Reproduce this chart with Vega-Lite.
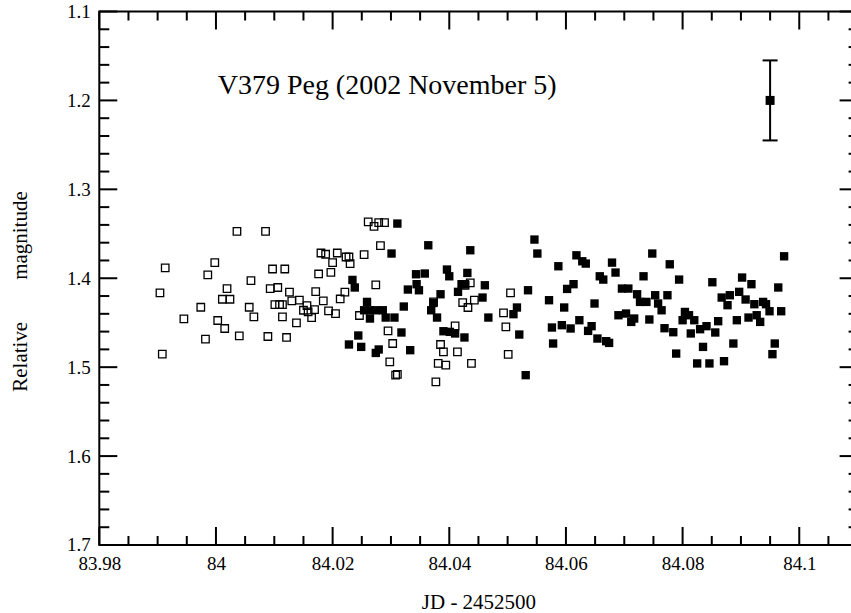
{
  "$schema": "https://vega.github.io/schema/vega-lite/v6.json",
  "width": 758.3,
  "height": 533.5,
  "autosize": {"type": "none"},
  "padding": {"left": 99.3, "top": 11.5, "right": -7, "bottom": 68},
  "background": "white",
  "config": {
    "view": {"stroke": "black", "strokeWidth": 2},
    "axis": {"grid": false, "domain": false, "ticks": false, "labelColor": "black", "titleColor": "black", "labelFont": "Liberation Serif", "titleFont": "Liberation Serif", "labelFontSize": 19, "titleFontSize": 21, "titleFontWeight": "normal"}
  },
  "datasets": {
    "open": [
      {"jd": 84.0036, "mag": 1.3472}, {"jd": 84.0085, "mag": 1.3472}, {"jd": 83.9913, "mag": 1.3884}, {"jd": 83.9998, "mag": 1.3824},
      {"jd": 83.9986, "mag": 1.3963}, {"jd": 84.0097, "mag": 1.3896}, {"jd": 84.0118, "mag": 1.3896}, {"jd": 84.006, "mag": 1.4026},
      {"jd": 83.9904, "mag": 1.4165}, {"jd": 84.0019, "mag": 1.4116}, {"jd": 84.0093, "mag": 1.4116}, {"jd": 84.0106, "mag": 1.4104},
      {"jd": 84.0011, "mag": 1.4236}, {"jd": 84.0024, "mag": 1.4236}, {"jd": 83.9974, "mag": 1.4326}, {"jd": 84.0057, "mag": 1.4326},
      {"jd": 84.0101, "mag": 1.4296}, {"jd": 84.0109, "mag": 1.4296}, {"jd": 84.0114, "mag": 1.4296}, {"jd": 83.9945, "mag": 1.4457},
      {"jd": 84.0003, "mag": 1.4475}, {"jd": 84.0065, "mag": 1.4435}, {"jd": 84.0114, "mag": 1.4435}, {"jd": 84.0015, "mag": 1.4565},
      {"jd": 83.9982, "mag": 1.4685}, {"jd": 84.004, "mag": 1.4648}, {"jd": 84.0089, "mag": 1.4655}, {"jd": 83.9908, "mag": 1.4854},
      {"jd": 84.0121, "mag": 1.4666},
      {"jd": 84.0261, "mag": 1.3367}, {"jd": 84.0271, "mag": 1.3416}, {"jd": 84.0279, "mag": 1.3374}, {"jd": 84.0289, "mag": 1.3374},
      {"jd": 84.0282, "mag": 1.3633}, {"jd": 84.018, "mag": 1.3716}, {"jd": 84.0188, "mag": 1.373}, {"jd": 84.0208, "mag": 1.3716},
      {"jd": 84.0223, "mag": 1.3761}, {"jd": 84.0228, "mag": 1.3761}, {"jd": 84.02, "mag": 1.3824}, {"jd": 84.023, "mag": 1.3835},
      {"jd": 84.0254, "mag": 1.3734}, {"jd": 84.0176, "mag": 1.3952}, {"jd": 84.0197, "mag": 1.3933}, {"jd": 84.0221, "mag": 1.4157},
      {"jd": 84.0213, "mag": 1.4233}, {"jd": 84.0274, "mag": 1.4075}, {"jd": 84.0126, "mag": 1.4157}, {"jd": 84.0171, "mag": 1.415},
      {"jd": 84.013, "mag": 1.4255}, {"jd": 84.0143, "mag": 1.4247}, {"jd": 84.0156, "mag": 1.4307}, {"jd": 84.0184, "mag": 1.4255},
      {"jd": 84.015, "mag": 1.436}, {"jd": 84.0158, "mag": 1.4379}, {"jd": 84.0164, "mag": 1.4442}, {"jd": 84.0169, "mag": 1.4352},
      {"jd": 84.0193, "mag": 1.4367}, {"jd": 84.0205, "mag": 1.4397}, {"jd": 84.0138, "mag": 1.4502}, {"jd": 84.0246, "mag": 1.4419},
      {"jd": 84.0295, "mag": 1.4592}, {"jd": 84.0303, "mag": 1.4734}, {"jd": 84.0298, "mag": 1.494}, {"jd": 84.0308, "mag": 1.509},
      {"jd": 84.0311, "mag": 1.5082},
      {"jd": 84.0436, "mag": 1.4053}, {"jd": 84.0427, "mag": 1.4079}, {"jd": 84.0505, "mag": 1.4165}, {"jd": 84.0423, "mag": 1.4273},
      {"jd": 84.0432, "mag": 1.4329}, {"jd": 84.0443, "mag": 1.4247}, {"jd": 84.0373, "mag": 1.4266}, {"jd": 84.0493, "mag": 1.439},
      {"jd": 84.0497, "mag": 1.4547}, {"jd": 84.041, "mag": 1.4536}, {"jd": 84.0385, "mag": 1.4745}, {"jd": 84.039, "mag": 1.4828},
      {"jd": 84.0414, "mag": 1.4828}, {"jd": 84.0381, "mag": 1.4958}, {"jd": 84.0394, "mag": 1.4978}, {"jd": 84.0438, "mag": 1.4958},
      {"jd": 84.0501, "mag": 1.4857}, {"jd": 84.0377, "mag": 1.5165}
    ],
    "filled": [
      {"jd": 84.0311, "mag": 1.3385}, {"jd": 84.0301, "mag": 1.3722}, {"jd": 84.0234, "mag": 1.4019}, {"jd": 84.0238, "mag": 1.4104},
      {"jd": 84.0343, "mag": 1.3955}, {"jd": 84.0329, "mag": 1.4127}, {"jd": 84.0344, "mag": 1.4067}, {"jd": 84.0259, "mag": 1.4266},
      {"jd": 84.0254, "mag": 1.436}, {"jd": 84.0264, "mag": 1.436}, {"jd": 84.0274, "mag": 1.436}, {"jd": 84.0286, "mag": 1.436},
      {"jd": 84.0264, "mag": 1.4453}, {"jd": 84.0291, "mag": 1.4442}, {"jd": 84.0306, "mag": 1.4442}, {"jd": 84.0322, "mag": 1.4318},
      {"jd": 84.0318, "mag": 1.461}, {"jd": 84.0244, "mag": 1.4644}, {"jd": 84.0228, "mag": 1.4745}, {"jd": 84.0249, "mag": 1.4772},
      {"jd": 84.0279, "mag": 1.4801}, {"jd": 84.0274, "mag": 1.484}, {"jd": 84.0333, "mag": 1.4809},
      {"jd": 84.0364, "mag": 1.3629}, {"jd": 84.0436, "mag": 1.3685}, {"jd": 84.0546, "mag": 1.3565}, {"jd": 84.0551, "mag": 1.3722},
      {"jd": 84.0358, "mag": 1.3947}, {"jd": 84.0396, "mag": 1.3902}, {"jd": 84.04, "mag": 1.3978}, {"jd": 84.0431, "mag": 1.394},
      {"jd": 84.0348, "mag": 1.4135}, {"jd": 84.0421, "mag": 1.4067}, {"jd": 84.0427, "mag": 1.4067}, {"jd": 84.0415, "mag": 1.4153},
      {"jd": 84.0385, "mag": 1.418}, {"jd": 84.0461, "mag": 1.4079}, {"jd": 84.0535, "mag": 1.4135}, {"jd": 84.0571, "mag": 1.4247},
      {"jd": 84.0373, "mag": 1.4278}, {"jd": 84.0369, "mag": 1.436}, {"jd": 84.0457, "mag": 1.4217}, {"jd": 84.0516, "mag": 1.4329},
      {"jd": 84.051, "mag": 1.4404}, {"jd": 84.0379, "mag": 1.4442}, {"jd": 84.0467, "mag": 1.4442}, {"jd": 84.039, "mag": 1.4596},
      {"jd": 84.0401, "mag": 1.4603}, {"jd": 84.041, "mag": 1.4621}, {"jd": 84.0426, "mag": 1.4666}, {"jd": 84.052, "mag": 1.4633},
      {"jd": 84.0576, "mag": 1.4554}, {"jd": 84.0578, "mag": 1.4734}, {"jd": 84.0531, "mag": 1.509},
      {"jd": 84.0618, "mag": 1.3742}, {"jd": 84.0748, "mag": 1.3722}, {"jd": 84.0587, "mag": 1.3865}, {"jd": 84.0628, "mag": 1.3809},
      {"jd": 84.0634, "mag": 1.3835}, {"jd": 84.0679, "mag": 1.3824}, {"jd": 84.0778, "mag": 1.3843}, {"jd": 84.0685, "mag": 1.3936},
      {"jd": 84.0658, "mag": 1.3978}, {"jd": 84.0664, "mag": 1.4015}, {"jd": 84.0733, "mag": 1.3978}, {"jd": 84.0794, "mag": 1.4015},
      {"jd": 84.0613, "mag": 1.4067}, {"jd": 84.0602, "mag": 1.412}, {"jd": 84.0696, "mag": 1.4116}, {"jd": 84.0707, "mag": 1.4116},
      {"jd": 84.0722, "mag": 1.418}, {"jd": 84.0753, "mag": 1.4191}, {"jd": 84.0774, "mag": 1.4191}, {"jd": 84.0727, "mag": 1.4266},
      {"jd": 84.0738, "mag": 1.4266}, {"jd": 84.0758, "mag": 1.4284}, {"jd": 84.0649, "mag": 1.4284}, {"jd": 84.0597, "mag": 1.4329},
      {"jd": 84.0764, "mag": 1.436}, {"jd": 84.0804, "mag": 1.4379}, {"jd": 84.08, "mag": 1.4472}, {"jd": 84.0623, "mag": 1.4472},
      {"jd": 84.069, "mag": 1.4416}, {"jd": 84.0703, "mag": 1.4397}, {"jd": 84.0717, "mag": 1.4453}, {"jd": 84.0712, "mag": 1.4491},
      {"jd": 84.0743, "mag": 1.4464}, {"jd": 84.0593, "mag": 1.4528}, {"jd": 84.0608, "mag": 1.4565}, {"jd": 84.0644, "mag": 1.4539},
      {"jd": 84.0638, "mag": 1.4592}, {"jd": 84.0769, "mag": 1.4562}, {"jd": 84.0784, "mag": 1.4607}, {"jd": 84.0654, "mag": 1.4678},
      {"jd": 84.0669, "mag": 1.4708}, {"jd": 84.0674, "mag": 1.4727}, {"jd": 84.0789, "mag": 1.4847},
      {"jd": 84.0974, "mag": 1.3753}, {"jd": 84.0851, "mag": 1.4045}, {"jd": 84.0902, "mag": 1.3992}, {"jd": 84.0918, "mag": 1.4067},
      {"jd": 84.0964, "mag": 1.4104}, {"jd": 84.0867, "mag": 1.4217}, {"jd": 84.0881, "mag": 1.4191}, {"jd": 84.0897, "mag": 1.4153},
      {"jd": 84.0877, "mag": 1.4303}, {"jd": 84.0908, "mag": 1.4239}, {"jd": 84.0923, "mag": 1.4292}, {"jd": 84.0938, "mag": 1.4266},
      {"jd": 84.0943, "mag": 1.4292}, {"jd": 84.0949, "mag": 1.4371}, {"jd": 84.0969, "mag": 1.4371}, {"jd": 84.0811, "mag": 1.4416},
      {"jd": 84.082, "mag": 1.4472}, {"jd": 84.0861, "mag": 1.4483}, {"jd": 84.0893, "mag": 1.4472}, {"jd": 84.0913, "mag": 1.4442},
      {"jd": 84.0927, "mag": 1.4416}, {"jd": 84.0933, "mag": 1.4491}, {"jd": 84.0841, "mag": 1.4539}, {"jd": 84.083, "mag": 1.4573},
      {"jd": 84.0814, "mag": 1.4621}, {"jd": 84.0856, "mag": 1.461}, {"jd": 84.0835, "mag": 1.4772}, {"jd": 84.0887, "mag": 1.4734},
      {"jd": 84.0958, "mag": 1.4734}, {"jd": 84.0954, "mag": 1.4854}, {"jd": 84.0825, "mag": 1.4958}, {"jd": 84.0846, "mag": 1.4958},
      {"jd": 84.0871, "mag": 1.4933}
    ],
    "errbar": [{"jd": 84.095, "mag": 1.2, "lo": 1.155, "hi": 1.245}],
    "label": [{"jd": 84.0003, "mag": 1.1933, "text": "V379 Peg (2002 November 5)"}],
    "xmajor": [{"v": 83.98}, {"v": 84}, {"v": 84.02}, {"v": 84.04}, {"v": 84.06}, {"v": 84.08}, {"v": 84.1}],
    "xminor": [{"v": 83.985}, {"v": 83.99}, {"v": 83.995}, {"v": 84.005}, {"v": 84.01}, {"v": 84.015}, {"v": 84.025}, {"v": 84.03}, {"v": 84.035}, {"v": 84.045}, {"v": 84.05}, {"v": 84.055}, {"v": 84.065}, {"v": 84.07}, {"v": 84.075}, {"v": 84.085}, {"v": 84.09}, {"v": 84.095}, {"v": 84.105}],
    "ymajor": [{"v": 1.1}, {"v": 1.2}, {"v": 1.3}, {"v": 1.4}, {"v": 1.5}, {"v": 1.6}, {"v": 1.7}],
    "yminor": [{"v": 1.12}, {"v": 1.14}, {"v": 1.16}, {"v": 1.18}, {"v": 1.22}, {"v": 1.24}, {"v": 1.26}, {"v": 1.28}, {"v": 1.32}, {"v": 1.34}, {"v": 1.36}, {"v": 1.38}, {"v": 1.42}, {"v": 1.44}, {"v": 1.46}, {"v": 1.48}, {"v": 1.52}, {"v": 1.54}, {"v": 1.56}, {"v": 1.58}, {"v": 1.62}, {"v": 1.64}, {"v": 1.66}, {"v": 1.68}]
  },
  "layer": [
    {
      "data": {"name": "xmajor"},
      "mark": {"type": "tick", "orient": "vertical", "color": "black", "size": 18, "thickness": 2, "yOffset": -9, "opacity": 1},
      "encoding": {
        "x": {"field": "v", "type": "quantitative", "scale": {"domain": [83.98, 84.11], "nice": false, "zero": false}, "axis": {"orient": "bottom", "values": [83.98, 84, 84.02, 84.04, 84.06, 84.08, 84.1], "format": "~g", "labelPadding": 10, "title": "JD - 2452500", "titlePadding": 18, "labelFlush": false, "labelOverlap": false}},
        "y": {"datum": 1.7, "type": "quantitative", "scale": {"domain": [1.1, 1.7], "reverse": true, "nice": false, "zero": false}, "axis": {"orient": "left", "values": [1.1, 1.2, 1.3, 1.4, 1.5, 1.6, 1.7], "format": "~g", "labelPadding": 9, "title": "Relative\u00a0\u00a0\u00a0\u00a0\u00a0\u00a0\u00a0\u00a0magnitude", "titlePadding": 36, "titleY": 279.5, "labelFlush": false, "labelOverlap": false}}
      }
    },
    {
      "data": {"name": "xminor"},
      "mark": {"type": "tick", "orient": "vertical", "color": "black", "size": 9, "thickness": 2, "yOffset": -4.5, "opacity": 1},
      "encoding": {
        "x": {"field": "v", "type": "quantitative", "axis": {"orient": "bottom", "values": [83.98, 84, 84.02, 84.04, 84.06, 84.08, 84.1], "format": "~g", "labelPadding": 10, "title": "JD - 2452500", "titlePadding": 18, "labelFlush": false, "labelOverlap": false}},
        "y": {"datum": 1.7, "type": "quantitative", "axis": {"orient": "left", "values": [1.1, 1.2, 1.3, 1.4, 1.5, 1.6, 1.7], "format": "~g", "labelPadding": 9, "title": "Relative\u00a0\u00a0\u00a0\u00a0\u00a0\u00a0\u00a0\u00a0magnitude", "titlePadding": 36, "titleY": 279.5, "labelFlush": false, "labelOverlap": false}}
      }
    },
    {
      "data": {"name": "xmajor"},
      "mark": {"type": "tick", "orient": "vertical", "color": "black", "size": 18, "thickness": 2, "yOffset": 9, "opacity": 1},
      "encoding": {
        "x": {"field": "v", "type": "quantitative", "axis": {"orient": "bottom", "values": [83.98, 84, 84.02, 84.04, 84.06, 84.08, 84.1], "format": "~g", "labelPadding": 10, "title": "JD - 2452500", "titlePadding": 18, "labelFlush": false, "labelOverlap": false}},
        "y": {"datum": 1.1, "type": "quantitative", "axis": {"orient": "left", "values": [1.1, 1.2, 1.3, 1.4, 1.5, 1.6, 1.7], "format": "~g", "labelPadding": 9, "title": "Relative\u00a0\u00a0\u00a0\u00a0\u00a0\u00a0\u00a0\u00a0magnitude", "titlePadding": 36, "titleY": 279.5, "labelFlush": false, "labelOverlap": false}}
      }
    },
    {
      "data": {"name": "xminor"},
      "mark": {"type": "tick", "orient": "vertical", "color": "black", "size": 9, "thickness": 2, "yOffset": 4.5, "opacity": 1},
      "encoding": {
        "x": {"field": "v", "type": "quantitative", "axis": {"orient": "bottom", "values": [83.98, 84, 84.02, 84.04, 84.06, 84.08, 84.1], "format": "~g", "labelPadding": 10, "title": "JD - 2452500", "titlePadding": 18, "labelFlush": false, "labelOverlap": false}},
        "y": {"datum": 1.1, "type": "quantitative", "axis": {"orient": "left", "values": [1.1, 1.2, 1.3, 1.4, 1.5, 1.6, 1.7], "format": "~g", "labelPadding": 9, "title": "Relative\u00a0\u00a0\u00a0\u00a0\u00a0\u00a0\u00a0\u00a0magnitude", "titlePadding": 36, "titleY": 279.5, "labelFlush": false, "labelOverlap": false}}
      }
    },
    {
      "data": {"name": "ymajor"},
      "mark": {"type": "tick", "orient": "horizontal", "color": "black", "size": 18, "thickness": 2, "xOffset": 9, "opacity": 1},
      "encoding": {
        "y": {"field": "v", "type": "quantitative", "axis": {"orient": "left", "values": [1.1, 1.2, 1.3, 1.4, 1.5, 1.6, 1.7], "format": "~g", "labelPadding": 9, "title": "Relative\u00a0\u00a0\u00a0\u00a0\u00a0\u00a0\u00a0\u00a0magnitude", "titlePadding": 36, "titleY": 279.5, "labelFlush": false, "labelOverlap": false}},
        "x": {"datum": 83.98, "type": "quantitative", "axis": {"orient": "bottom", "values": [83.98, 84, 84.02, 84.04, 84.06, 84.08, 84.1], "format": "~g", "labelPadding": 10, "title": "JD - 2452500", "titlePadding": 18, "labelFlush": false, "labelOverlap": false}}
      }
    },
    {
      "data": {"name": "yminor"},
      "mark": {"type": "tick", "orient": "horizontal", "color": "black", "size": 10, "thickness": 2, "xOffset": 5, "opacity": 1},
      "encoding": {
        "y": {"field": "v", "type": "quantitative", "axis": {"orient": "left", "values": [1.1, 1.2, 1.3, 1.4, 1.5, 1.6, 1.7], "format": "~g", "labelPadding": 9, "title": "Relative\u00a0\u00a0\u00a0\u00a0\u00a0\u00a0\u00a0\u00a0magnitude", "titlePadding": 36, "titleY": 279.5, "labelFlush": false, "labelOverlap": false}},
        "x": {"datum": 83.98, "type": "quantitative", "axis": {"orient": "bottom", "values": [83.98, 84, 84.02, 84.04, 84.06, 84.08, 84.1], "format": "~g", "labelPadding": 10, "title": "JD - 2452500", "titlePadding": 18, "labelFlush": false, "labelOverlap": false}}
      }
    },
    {
      "data": {"name": "ymajor"},
      "mark": {"type": "tick", "orient": "horizontal", "color": "black", "size": 18, "thickness": 2, "xOffset": -9, "opacity": 1},
      "encoding": {
        "y": {"field": "v", "type": "quantitative", "axis": {"orient": "left", "values": [1.1, 1.2, 1.3, 1.4, 1.5, 1.6, 1.7], "format": "~g", "labelPadding": 9, "title": "Relative\u00a0\u00a0\u00a0\u00a0\u00a0\u00a0\u00a0\u00a0magnitude", "titlePadding": 36, "titleY": 279.5, "labelFlush": false, "labelOverlap": false}},
        "x": {"datum": 84.11, "type": "quantitative", "axis": {"orient": "bottom", "values": [83.98, 84, 84.02, 84.04, 84.06, 84.08, 84.1], "format": "~g", "labelPadding": 10, "title": "JD - 2452500", "titlePadding": 18, "labelFlush": false, "labelOverlap": false}}
      }
    },
    {
      "data": {"name": "yminor"},
      "mark": {"type": "tick", "orient": "horizontal", "color": "black", "size": 9, "thickness": 2, "xOffset": -4.5, "opacity": 1},
      "encoding": {
        "y": {"field": "v", "type": "quantitative", "axis": {"orient": "left", "values": [1.1, 1.2, 1.3, 1.4, 1.5, 1.6, 1.7], "format": "~g", "labelPadding": 9, "title": "Relative\u00a0\u00a0\u00a0\u00a0\u00a0\u00a0\u00a0\u00a0magnitude", "titlePadding": 36, "titleY": 279.5, "labelFlush": false, "labelOverlap": false}},
        "x": {"datum": 84.11, "type": "quantitative", "axis": {"orient": "bottom", "values": [83.98, 84, 84.02, 84.04, 84.06, 84.08, 84.1], "format": "~g", "labelPadding": 10, "title": "JD - 2452500", "titlePadding": 18, "labelFlush": false, "labelOverlap": false}}
      }
    },
    {
      "data": {"name": "open"},
      "mark": {"type": "point", "shape": "square", "filled": false, "color": "black", "size": 56, "strokeWidth": 1.3, "opacity": 1},
      "encoding": {
        "x": {"field": "jd", "type": "quantitative", "axis": {"orient": "bottom", "values": [83.98, 84, 84.02, 84.04, 84.06, 84.08, 84.1], "format": "~g", "labelPadding": 10, "title": "JD - 2452500", "titlePadding": 18, "labelFlush": false, "labelOverlap": false}},
        "y": {"field": "mag", "type": "quantitative", "axis": {"orient": "left", "values": [1.1, 1.2, 1.3, 1.4, 1.5, 1.6, 1.7], "format": "~g", "labelPadding": 9, "title": "Relative\u00a0\u00a0\u00a0\u00a0\u00a0\u00a0\u00a0\u00a0magnitude", "titlePadding": 36, "titleY": 279.5, "labelFlush": false, "labelOverlap": false}}
      }
    },
    {
      "data": {"name": "filled"},
      "mark": {"type": "square", "color": "black", "size": 70, "opacity": 1},
      "encoding": {
        "x": {"field": "jd", "type": "quantitative", "axis": {"orient": "bottom", "values": [83.98, 84, 84.02, 84.04, 84.06, 84.08, 84.1], "format": "~g", "labelPadding": 10, "title": "JD - 2452500", "titlePadding": 18, "labelFlush": false, "labelOverlap": false}},
        "y": {"field": "mag", "type": "quantitative", "axis": {"orient": "left", "values": [1.1, 1.2, 1.3, 1.4, 1.5, 1.6, 1.7], "format": "~g", "labelPadding": 9, "title": "Relative\u00a0\u00a0\u00a0\u00a0\u00a0\u00a0\u00a0\u00a0magnitude", "titlePadding": 36, "titleY": 279.5, "labelFlush": false, "labelOverlap": false}}
      }
    },
    {
      "data": {"name": "errbar"},
      "mark": {"type": "rule", "color": "black", "strokeWidth": 2},
      "encoding": {
        "x": {"field": "jd", "type": "quantitative", "axis": {"orient": "bottom", "values": [83.98, 84, 84.02, 84.04, 84.06, 84.08, 84.1], "format": "~g", "labelPadding": 10, "title": "JD - 2452500", "titlePadding": 18, "labelFlush": false, "labelOverlap": false}},
        "y": {"field": "lo", "type": "quantitative", "axis": {"orient": "left", "values": [1.1, 1.2, 1.3, 1.4, 1.5, 1.6, 1.7], "format": "~g", "labelPadding": 9, "title": "Relative\u00a0\u00a0\u00a0\u00a0\u00a0\u00a0\u00a0\u00a0magnitude", "titlePadding": 36, "titleY": 279.5, "labelFlush": false, "labelOverlap": false}},
        "y2": {"field": "hi"}
      }
    },
    {
      "data": {"name": "errbar"},
      "mark": {"type": "tick", "orient": "horizontal", "color": "black", "size": 15, "thickness": 2, "opacity": 1},
      "encoding": {
        "x": {"field": "jd", "type": "quantitative", "axis": {"orient": "bottom", "values": [83.98, 84, 84.02, 84.04, 84.06, 84.08, 84.1], "format": "~g", "labelPadding": 10, "title": "JD - 2452500", "titlePadding": 18, "labelFlush": false, "labelOverlap": false}},
        "y": {"field": "lo", "type": "quantitative", "axis": {"orient": "left", "values": [1.1, 1.2, 1.3, 1.4, 1.5, 1.6, 1.7], "format": "~g", "labelPadding": 9, "title": "Relative\u00a0\u00a0\u00a0\u00a0\u00a0\u00a0\u00a0\u00a0magnitude", "titlePadding": 36, "titleY": 279.5, "labelFlush": false, "labelOverlap": false}}
      }
    },
    {
      "data": {"name": "errbar"},
      "mark": {"type": "tick", "orient": "horizontal", "color": "black", "size": 15, "thickness": 2, "opacity": 1},
      "encoding": {
        "x": {"field": "jd", "type": "quantitative", "axis": {"orient": "bottom", "values": [83.98, 84, 84.02, 84.04, 84.06, 84.08, 84.1], "format": "~g", "labelPadding": 10, "title": "JD - 2452500", "titlePadding": 18, "labelFlush": false, "labelOverlap": false}},
        "y": {"field": "hi", "type": "quantitative", "axis": {"orient": "left", "values": [1.1, 1.2, 1.3, 1.4, 1.5, 1.6, 1.7], "format": "~g", "labelPadding": 9, "title": "Relative\u00a0\u00a0\u00a0\u00a0\u00a0\u00a0\u00a0\u00a0magnitude", "titlePadding": 36, "titleY": 279.5, "labelFlush": false, "labelOverlap": false}}
      }
    },
    {
      "data": {"name": "errbar"},
      "mark": {"type": "square", "color": "black", "size": 81, "opacity": 1},
      "encoding": {
        "x": {"field": "jd", "type": "quantitative", "axis": {"orient": "bottom", "values": [83.98, 84, 84.02, 84.04, 84.06, 84.08, 84.1], "format": "~g", "labelPadding": 10, "title": "JD - 2452500", "titlePadding": 18, "labelFlush": false, "labelOverlap": false}},
        "y": {"field": "mag", "type": "quantitative", "axis": {"orient": "left", "values": [1.1, 1.2, 1.3, 1.4, 1.5, 1.6, 1.7], "format": "~g", "labelPadding": 9, "title": "Relative\u00a0\u00a0\u00a0\u00a0\u00a0\u00a0\u00a0\u00a0magnitude", "titlePadding": 36, "titleY": 279.5, "labelFlush": false, "labelOverlap": false}}
      }
    },
    {
      "data": {"name": "label"},
      "mark": {"type": "text", "align": "left", "baseline": "alphabetic", "font": "Liberation Serif", "fontSize": 28, "color": "black"},
      "encoding": {
        "x": {"field": "jd", "type": "quantitative", "axis": {"orient": "bottom", "values": [83.98, 84, 84.02, 84.04, 84.06, 84.08, 84.1], "format": "~g", "labelPadding": 10, "title": "JD - 2452500", "titlePadding": 18, "labelFlush": false, "labelOverlap": false}},
        "y": {"field": "mag", "type": "quantitative", "axis": {"orient": "left", "values": [1.1, 1.2, 1.3, 1.4, 1.5, 1.6, 1.7], "format": "~g", "labelPadding": 9, "title": "Relative\u00a0\u00a0\u00a0\u00a0\u00a0\u00a0\u00a0\u00a0magnitude", "titlePadding": 36, "titleY": 279.5, "labelFlush": false, "labelOverlap": false}},
        "text": {"field": "text"}
      }
    }
  ]
}
